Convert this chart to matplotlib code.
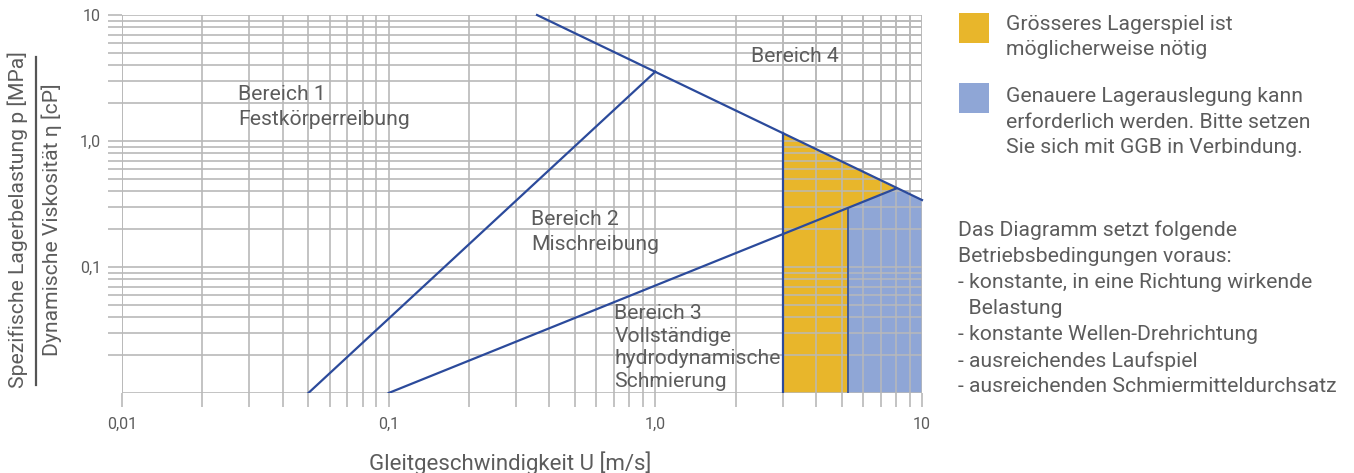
import numpy as np
import matplotlib
matplotlib.use("Agg")
import matplotlib.pyplot as plt
from matplotlib.patches import Rectangle, Polygon
from matplotlib.lines import Line2D

plt.rcParams['font.family'] = ['Roboto', 'DejaVu Sans']

# ---- data ----
line1_x = [0.05, 1.0]
line1_y = [0.01, 3.55]
line2_x = [0.1, 8.0]
line2_y = [0.01, 0.42]
line3_x = [0.36, 10.0]
line3_y = [10.0, 0.34]
x_vertical = 3.0        # start of yellow zone
x_split = 5.3           # border yellow / blue
x_intersect = 8.0       # line2 meets line3
y_floor = 0.01

xticks = [0.01, 0.1, 1.0, 10]
xticklabels = ["0,01", "0,1", "1,0", "10"]
yticks = [0.1, 1.0, 10]
yticklabels = ["0,1", "1,0", "10"]

region_labels = ["Bereich 1\nFestkörperreibung", "Bereich 2\nMischreibung",
                 "Bereich 3\nVollständige\nhydrodynamische\nSchmierung", "Bereich 4"]
region_x = [0.0272, 0.343, 0.702, 2.288]
region_y = [1.34, 0.1365, 0.01116, 4.236]   # baseline of last line
region_ls = [1.38, 1.38, 1.24, 1.3]

legend_texts = ["Grösseres Lagerspiel ist\nmöglicherweise nötig",
                "Genauere Lagerauslegung kann\nerforderlich werden. Bitte setzen\nSie sich mit GGB in Verbindung."]
notes_text = ("Das Diagramm setzt folgende\nBetriebsbedingungen voraus:\n"
              "- konstante, in eine Richtung wirkende\n  Belastung\n"
              "- konstante Wellen-Drehrichtung\n- ausreichendes Laufspiel\n"
              "- ausreichenden Schmiermitteldurchsatz")

LINE = "#2b4a9b"
YEL = "#e8b62b"
BLU = "#8fa6d6"
GRID = "#b9b9b9"
TXT = "#5c5c5c"
FS = 15.2

def logval(xs, ys, x):
    return 10 ** np.interp(np.log10(x), np.log10(xs), np.log10(ys))

W, H = 1354, 473
fig = plt.figure(figsize=(W / 100, H / 100), dpi=100)
ax = fig.add_axes([122 / W, 1 - 393 / H, 800 / W, 378 / H])
ax.set_xscale('log')
ax.set_yscale('log')
ax.set_xlim(0.01, 10)
ax.set_ylim(0.01, 10)

for s in ax.spines.values():
    s.set_visible(False)
ax.grid(True, which='both', color=GRID, linewidth=1.2)
ax.set_axisbelow(True)
ax.set_xticks(xticks)
ax.set_xticklabels(xticklabels)
ax.set_yticks(yticks)
ax.set_yticklabels(yticklabels)
ax.xaxis.set_minor_locator(matplotlib.ticker.LogLocator(base=10, subs=np.arange(2, 10)))
ax.yaxis.set_minor_locator(matplotlib.ticker.LogLocator(base=10, subs=np.arange(2, 10)))
ax.xaxis.set_minor_formatter(matplotlib.ticker.NullFormatter())
ax.yaxis.set_minor_formatter(matplotlib.ticker.NullFormatter())
ax.tick_params(which='both', direction='out', length=10, width=1.2, color=GRID,
               labelcolor=TXT, labelsize=11.5)
ax.tick_params(axis='x', which='major', pad=7)
ax.tick_params(axis='y', which='major', pad=5)
ax.axhline(0.01, color=GRID, lw=1.2, zorder=0.5)
ax.axvline(0.01, color=GRID, lw=1.2, zorder=0.5)

# fills
y_v_top = logval(line3_x, line3_y, x_vertical)
y_split = logval(line2_x, line2_y, x_split)
y_int = logval(line2_x, line2_y, x_intersect)
y_end = logval(line3_x, line3_y, 10.0)
yellow = Polygon([(x_vertical, y_floor), (x_vertical, y_v_top), (x_intersect, y_int),
                  (x_split, y_split), (x_split, y_floor)], closed=True,
                 facecolor=YEL, edgecolor='none', zorder=2)
blue = Polygon([(x_split, y_floor), (x_split, y_split), (x_intersect, y_int),
                (10.0, y_end), (10.0, y_floor)], closed=True,
               facecolor=BLU, edgecolor='none', zorder=2)
ax.add_patch(yellow)
ax.add_patch(blue)

# grid lines visible over fills
xs_grid = [v for e in (-2, -1, 0) for v in np.arange(1, 10) * 10.0 ** e] + [10.0]
for v in xs_grid:
    if v >= x_vertical:
        ax.axvline(v, color=GRID, lw=1.2, zorder=3, alpha=0.9)
ys_grid = [v for e in (-2, -1, 0) for v in np.arange(1, 10) * 10.0 ** e]
for v in ys_grid:
    ax.plot([x_vertical, 10], [v, v], color=GRID, lw=1.2, zorder=3, alpha=0.9)

ax.plot(line1_x, line1_y, color=LINE, lw=1.6, zorder=4)
ax.plot(line2_x, line2_y, color=LINE, lw=1.6, zorder=4)
ax.plot(line3_x, line3_y, color=LINE, lw=1.6, zorder=4, clip_on=False)
ax.plot([x_vertical, x_vertical], [y_floor, y_v_top], color=LINE, lw=1.6, zorder=4)
ax.plot([x_split, x_split], [y_floor, y_split], color=LINE, lw=1.2, zorder=4)

for lbl, x, y, ls in zip(region_labels, region_x, region_y, region_ls):
    ax.text(x, y, lbl, fontsize=FS, color=TXT, va='baseline', ha='left',
            linespacing=ls, zorder=5)

fig.text(510 / W, 1 - 470 / H, "Gleitgeschwindigkeit U [m/s]", ha='center', va='baseline',
         fontsize=16, color=TXT)

# y label as a fraction
fig.text(18 / W, 1 - 220 / H, "Spezifische Lagerbelastung p [MPa]", rotation=90,
         ha='center', va='center', fontsize=FS, color=TXT)
fig.text(52 / W, 1 - 220 / H, "Dynamische Viskosität η [cP]", rotation=90,
         ha='center', va='center', fontsize=FS, color=TXT)
fig.add_artist(Line2D([36 / W, 36 / W], [1 - 57 / H, 1 - 385 / H], color="#555555",
                      lw=1.6, transform=fig.transFigure))

# legend
fig.add_artist(Rectangle((959 / W, 1 - 43 / H), 30 / W, 30 / H, facecolor=YEL,
                         edgecolor='none', transform=fig.transFigure))
fig.add_artist(Rectangle((959 / W, 1 - 113 / H), 30 / W, 30 / H, facecolor=BLU,
                         edgecolor='none', transform=fig.transFigure))
fig.text(1006 / W, 1 - 55 / H, legend_texts[0], ha='left', va='baseline', fontsize=FS,
         color=TXT, linespacing=1.38)
fig.text(1006 / W, 1 - 153 / H, legend_texts[1], ha='left', va='baseline', fontsize=FS,
         color=TXT, linespacing=1.42)
fig.text(958 / W, 1 - 392.5 / H, notes_text, ha='left', va='baseline', fontsize=FS,
         color=TXT, linespacing=1.46)

fig.savefig("out.png", dpi=100)
